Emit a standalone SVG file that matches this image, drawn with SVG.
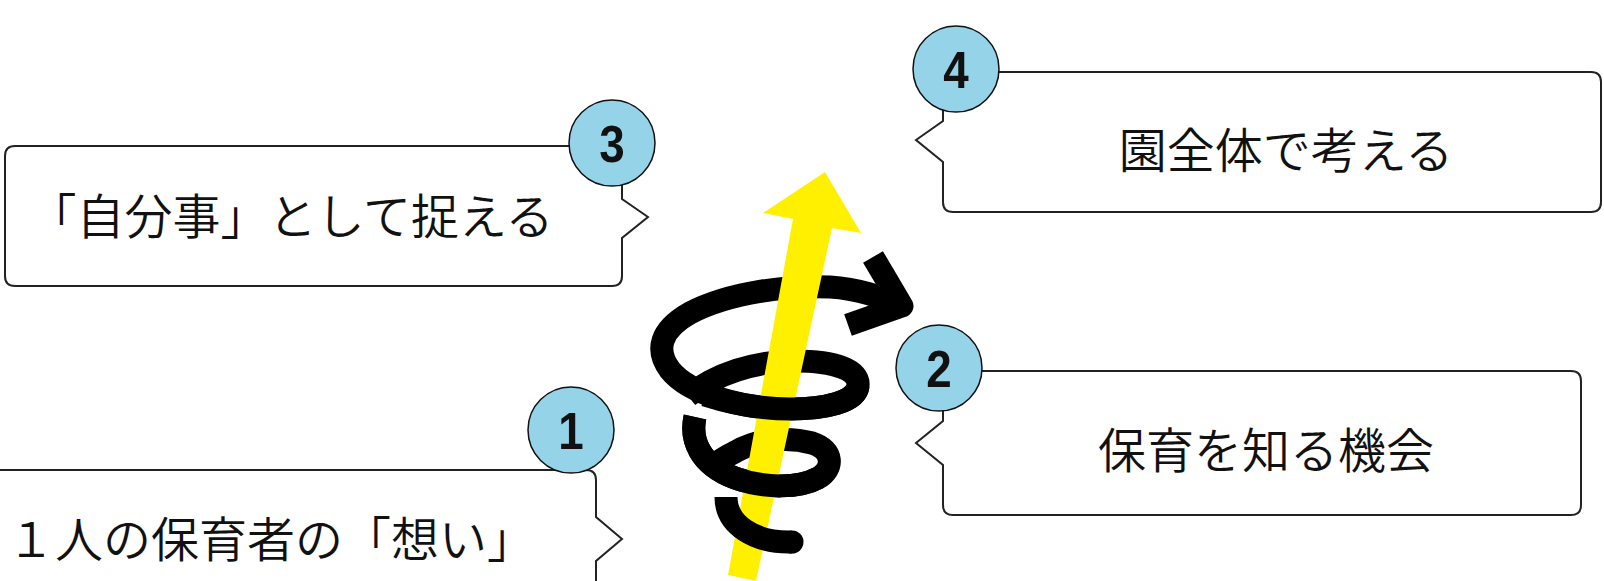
<svg xmlns="http://www.w3.org/2000/svg" width="1604" height="581" viewBox="0 0 1604 581">
<style>
.box{fill:#fff;stroke:#222;stroke-width:2;stroke-linejoin:miter}
.badge{fill:#95d3e8;stroke:#111;stroke-width:1.5}
.num{font-family:"Liberation Sans",Arial,sans-serif;font-weight:bold;font-size:52px;fill:#111;text-anchor:middle}
.lbl{font-family:"Noto Sans CJK JP","Noto Sans CJK SC",sans-serif;font-weight:350;font-size:48px;fill:#111}
.sp{fill:none;stroke:#000;stroke-width:23;stroke-linecap:butt;stroke-linejoin:round}
</style>
<rect width="1604" height="581" fill="#fff"/>
<g id="node1">
<path class="box" d="M -20 470 H 586 Q 596 470 596 480 V 517 L 622 539 L 596 561 V 600 H -20 Z"/>
<circle class="badge" cx="571" cy="430" r="43"/>
<text class="num" transform="translate(571 449) scale(0.88 1)">1</text>
<text class="lbl" x="7" y="557" font-size="47">１人の保育者の「想い」</text>
</g>
<g id="node3">
<path class="box" d="M 15 146 H 612 Q 622 146 622 156 V 199 L 648 217 L 622 238 V 276 Q 622 286 612 286 H 15 Q 5 286 5 276 V 156 Q 5 146 15 146 Z"/>
<circle class="badge" cx="612" cy="143" r="43"/>
<text class="num" transform="translate(612 162) scale(0.88 1)">3</text>
<text class="lbl" x="291" y="234" font-size="47.5" text-anchor="middle">「自分事」として捉える</text>
</g>
<g id="node4">
<path class="box" d="M 953 72 H 1591 Q 1601 72 1601 82 V 202 Q 1601 212 1591 212 H 953 Q 943 212 943 202 V 162 L 916 140 L 943 121 V 82 Q 943 72 953 72 Z"/>
<circle class="badge" cx="956" cy="69" r="43"/>
<text class="num" transform="translate(956 88) scale(0.88 1)">4</text>
<text class="lbl" x="1286" y="168" text-anchor="middle">園全体で考える</text>
</g>
<g id="node2">
<path class="box" d="M 953 371 H 1571 Q 1581 371 1581 381 V 505 Q 1581 515 1571 515 H 953 Q 943 515 943 505 V 465 L 916 443 L 943 421 V 381 Q 943 371 953 371 Z"/>
<circle class="badge" cx="939" cy="368" r="43"/>
<text class="num" transform="translate(939 387) scale(0.88 1)">2</text>
<text class="lbl" x="1266" y="468" text-anchor="middle">保育を知る機会</text>
</g>
<g id="connectors">
<g id="spiral-back">
<path class="sp" d="M 688 396 C 715 374, 755 361, 795 361 C 835 361, 860 370, 858 386 C 856 402, 825 409, 790 409 C 745 409, 690 395, 670 370 C 655 350, 660 330, 690 313 C 730 292, 790 285, 830 287 C 860 289, 880 297, 897 304"/>
<path class="sp" d="M 695 417 C 690 440, 700 465, 735 478 C 765 489, 800 488, 818 478 C 834 469, 834 450, 812 443 C 785 436, 755 440, 735 452 C 725 457, 716 463, 712 467"/>
</g>
<polygon id="arrow" points="728,575 793,219 763,213 825,172 861,233 832,228 756,581" fill="#fff000"/>
<g id="spiral-front">
<path class="sp" d="M 858 386 C 856 402, 825 409, 790 409 C 760 409, 730 403, 705 395"/>
<path class="sp" d="M 695 417 C 690 440, 700 465, 735 478 C 765 489, 800 488, 818 478"/>
<path class="sp" d="M 726 497 C 726 525, 755 543, 792 542"/>
<circle cx="792" cy="542" r="11.5" fill="#000"/>
<path class="sp" d="M 873 257 L 902 306 L 848 325" stroke-linecap="round"/>
</g>
</g>
</svg>
